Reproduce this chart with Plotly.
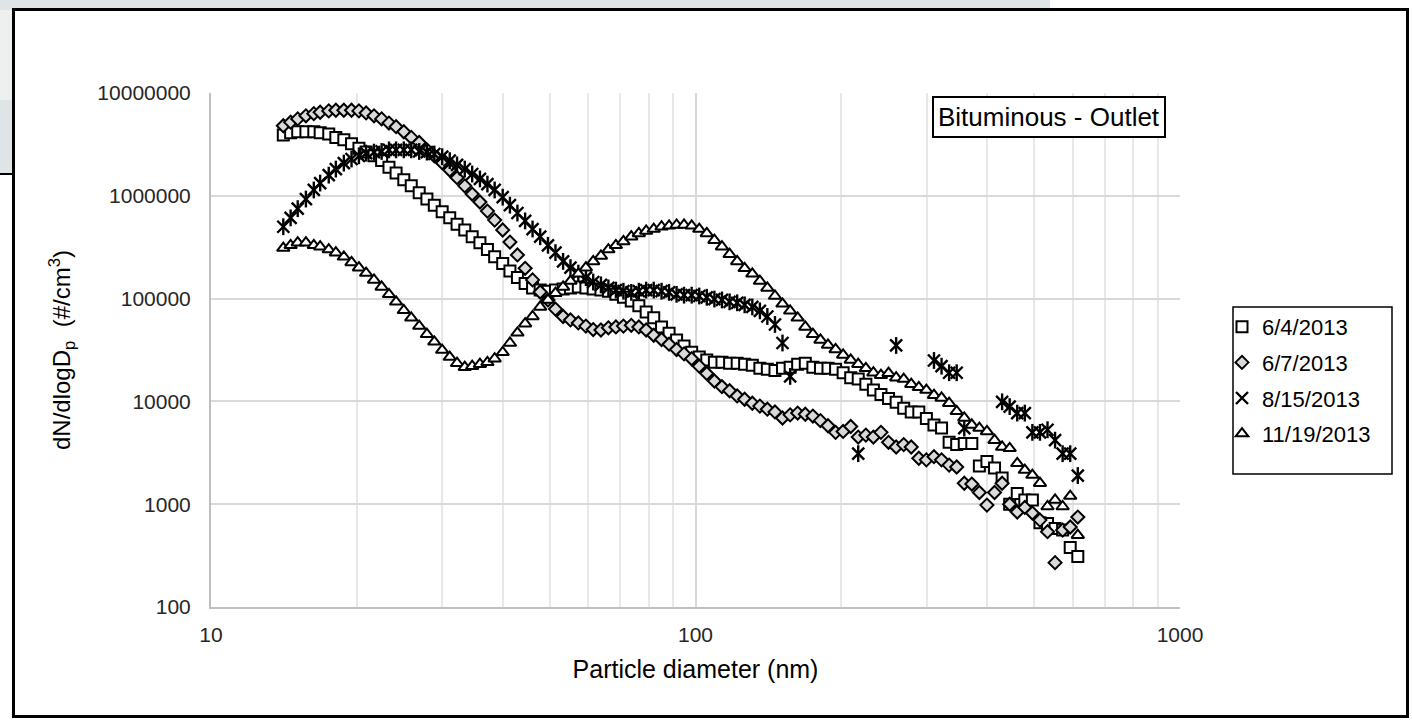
import plotly.graph_objects as go

# ---------------- data ----------------
diam = [14.1, 14.6, 15.1, 15.7, 16.3, 16.8, 17.5, 18.1, 18.8, 19.5,
        20.2, 20.9, 21.7, 22.5, 23.3, 24.1, 25.0, 25.9, 26.9, 27.9,
        28.9, 30.0, 31.1, 32.2, 33.4, 34.6, 35.9, 37.2, 38.5, 40.0,
        41.4, 42.9, 44.5, 46.1, 47.8, 49.6, 51.4, 53.3, 55.2, 57.3,
        59.4, 61.5, 63.8, 66.1, 68.5, 71.0, 73.7, 76.4, 79.1, 82.0,
        85.1, 88.2, 91.4, 94.7, 98.2, 101.8, 105.5, 109.4, 113.4, 117.6,
        121.9, 126.3, 131.0, 135.8, 140.7, 145.9, 151.2, 156.8, 162.5, 168.5,
        174.7, 181.1, 187.7, 194.6, 201.7, 209.1, 216.7, 224.7, 232.9, 241.4,
        250.3, 259.5, 269.0, 278.8, 289.0, 299.6, 310.6, 322.0, 333.8, 346.0,
        358.7, 371.8, 385.4, 399.5, 414.2, 429.4, 445.1, 461.4, 478.3, 495.8,
        514.0, 532.8, 552.3, 572.5, 593.5, 615.3]

s_0604 = [3.9e6, 4.1e6, 4.2e6, 4.2e6, 4.2e6, 4.1e6, 4.0e6, 3.7e6, 3.5e6, 3.2e6,
          2.9e6, 2.67e6, 2.45e6, 2.2e6, 1.9e6, 1.67e6, 1.43e6, 1.25e6, 1.07e6, 9.3e5,
          8.1e5, 7.0e5, 6.1e5, 5.3e5, 4.65e5, 4.0e5, 3.5e5, 3.0e5, 2.55e5, 2.2e5,
          1.86e5, 1.6e5, 1.4e5, 1.27e5, 1.21e5, 1.18e5, 1.21e5, 1.24e5, 1.27e5, 1.3e5,
          1.27e5, 1.24e5, 1.21e5, 1.18e5, 1.1e5, 1.03e5, 9.5e4, 8.5e4, 7.4e4, 6.5e4,
          5.3e4, 4.6e4, 3.96e4, 3.46e4, 3.0e4, 2.7e4, 2.53e4, 2.4e4, 2.4e4, 2.35e4,
          2.35e4, 2.3e4, 2.25e4, 2.1e4, 2.05e4, 2.0e4, 2.1e4, 2.15e4, 2.3e4, 2.35e4,
          2.15e4, 2.1e4, 2.1e4, 2.05e4, 1.9e4, 1.7e4, 1.65e4, 1.47e4, 1.29e4, 1.17e4,
          1.07e4, 9.8e3, 8.6e3, 7.9e3, 7.9e3, 6.8e3, 5.9e3, 5.5e3, 4.0e3, 3.8e3,
          3.9e3, 3.9e3, 2.35e3, 2.6e3, 2.25e3, 1.8e3, 1.0e3, 1.27e3, 1.1e3, 1.1e3,
          660, 650, 580, 560, 380, 310]

s_0607 = [4.8e6, 5.2e6, 5.6e6, 6.0e6, 6.3e6, 6.5e6, 6.7e6, 6.8e6, 6.8e6, 6.8e6,
          6.7e6, 6.4e6, 6.0e6, 5.6e6, 5.1e6, 4.7e6, 4.2e6, 3.7e6, 3.3e6, 2.8e6,
          2.45e6, 2.1e6, 1.78e6, 1.5e6, 1.25e6, 1.04e6, 8.7e5, 7.1e5, 5.8e5, 4.65e5,
          3.55e5, 2.66e5, 1.97e5, 1.52e5, 1.16e5, 9.7e4, 7.9e4, 6.7e4, 6.2e4, 5.8e4,
          5.4e4, 5.0e4, 4.95e4, 5.2e4, 5.3e4, 5.4e4, 5.5e4, 5.3e4, 4.95e4, 4.4e4,
          4.0e4, 3.6e4, 3.2e4, 2.9e4, 2.6e4, 2.2e4, 1.87e4, 1.58e4, 1.39e4, 1.27e4,
          1.13e4, 1.05e4, 9.6e3, 9.0e3, 8.4e3, 7.9e3, 6.9e3, 7.4e3, 7.7e3, 7.5e3,
          7.2e3, 6.5e3, 5.8e3, 5.0e3, 5.1e3, 5.7e3, 4.5e3, 4.7e3, 4.5e3, 5.0e3,
          4.0e3, 3.6e3, 3.8e3, 3.6e3, 2.8e3, 2.7e3, 2.9e3, 2.7e3, 2.4e3, 2.3e3,
          1.6e3, 1.57e3, 1.3e3, 980, 1.3e3, 1.6e3, 1.0e3, 840, 930, 820,
          700, 540, 270, 560, 600, 750]

s_0815 = [5.0e5, 6.1e5, 7.5e5, 9.3e5, 1.14e6, 1.33e6, 1.59e6, 1.82e6, 2.08e6, 2.28e6,
          2.45e6, 2.6e6, 2.66e6, 2.7e6, 2.8e6, 2.8e6, 2.8e6, 2.8e6, 2.7e6, 2.66e6,
          2.55e6, 2.4e6, 2.2e6, 2.0e6, 1.82e6, 1.63e6, 1.46e6, 1.3e6, 1.14e6, 9.7e5,
          8.1e5, 6.8e5, 5.7e5, 4.75e5, 4.0e5, 3.3e5, 2.8e5, 2.3e5, 2.0e5, 1.77e5,
          1.6e5, 1.45e5, 1.36e5, 1.27e5, 1.21e5, 1.18e5, 1.15e5, 1.18e5, 1.21e5, 1.21e5,
          1.18e5, 1.15e5, 1.1e5, 1.08e5, 1.08e5, 1.06e5, 1.03e5, 9.9e4, 9.7e4, 9.3e4,
          9.1e4, 8.7e4, 8.3e4, 7.6e4, 6.7e4, 5.6e4, 3.7e4, 1.75e4, None, None,
          None, None, None, None, None, None, 3.1e3, None, None, None,
          None, 3.5e4, None, None, None, None, 2.5e4, 2.2e4, 1.9e4, 1.9e4,
          5.5e3, None, None, None, None, 9.9e3, 8.9e3, 7.7e3, 7.7e3, 5.0e3,
          5.0e3, 5.3e3, 4.2e3, 3.1e3, 3.1e3, 1.9e3]

s_1119 = [3.1e5, 3.3e5, 3.5e5, 3.5e5, 3.3e5, 3.2e5, 3.0e5, 2.8e5, 2.55e5, 2.25e5,
          2.0e5, 1.77e5, 1.52e5, 1.3e5, 1.1e5, 9.3e4, 7.7e4, 6.5e4, 5.4e4, 4.5e4,
          3.8e4, 3.16e4, 2.7e4, 2.35e4, 2.15e4, 2.2e4, 2.3e4, 2.4e4, 2.6e4, 3.0e4,
          3.7e4, 4.65e4, 5.7e4, 6.7e4, 8.3e4, 9.7e4, 1.13e5, 1.3e5, 1.48e5, 1.74e5,
          2.0e5, 2.3e5, 2.6e5, 3.0e5, 3.3e5, 3.6e5, 4.0e5, 4.3e5, 4.55e5, 4.75e5,
          5.0e5, 5.1e5, 5.2e5, 5.2e5, 5.1e5, 4.75e5, 4.3e5, 3.7e5, 3.2e5, 2.7e5,
          2.3e5, 1.97e5, 1.74e5, 1.48e5, 1.27e5, 1.06e5, 8.9e4, 7.6e4, 6.5e4, 5.3e4,
          4.5e4, 3.96e4, 3.54e4, 3.2e4, 2.83e4, 2.53e4, 2.3e4, 2.1e4, 1.9e4, 1.8e4,
          1.88e4, 1.7e4, 1.65e4, 1.47e4, 1.37e4, 1.29e4, 1.15e4, 1.08e4, 9.6e3, 8.0e3,
          6.9e3, 5.9e3, 5.5e3, 5.1e3, 4.2e3, 3.6e3, 3.5e3, 2.5e3, 2.15e3, 1.92e3,
          1.6e3, 950, 1.1e3, 950, 1.2e3, 500]

series_names = ["6/4/2013", "6/7/2013", "8/15/2013", "11/19/2013"]
y_ticks = [100, 1000, 10000, 100000, 1000000, 10000000]
x_ticks = [10, 100, 1000]

# ---------------- layout helpers (pixel -> paper) ----------------
L, R, T, B = 211, 1180, 93, 607
W, H = R - L, B - T


def pxx(x):
    return (x - L) / W


def pyy(y):
    return (B - y) / H


FONT = "Liberation Sans, Arial, sans-serif"

fig = go.Figure()

fig.add_trace(go.Scatter(
    x=diam, y=s_0604, mode="markers", name=series_names[0], legendgroup="a",
    marker=dict(symbol="square", size=11, color="white",
                line=dict(color="black", width=2))))
fig.add_trace(go.Scatter(
    x=diam, y=s_0607, mode="markers", name=series_names[1], legendgroup="b",
    marker=dict(symbol="diamond", size=10, color="#d9d9d9",
                line=dict(color="black", width=2))))
fig.add_trace(go.Scatter(
    x=diam, y=s_0815, mode="markers", name=series_names[2], legendgroup="c",
    marker=dict(symbol="x-thin-open", size=12, color="black",
                line=dict(color="black", width=2.4))))
fig.add_trace(go.Scatter(
    x=diam, y=s_0815, mode="markers", name=series_names[2], legendgroup="c",
    showlegend=False, hoverinfo="skip",
    marker=dict(symbol="line-ns-open", size=12, color="black",
                line=dict(color="black", width=2.4))))
fig.add_trace(go.Scatter(
    x=diam, y=s_1119, mode="markers", name=series_names[3], legendgroup="d",
    marker=dict(symbol="triangle-up", size=11, color="white",
                line=dict(color="black", width=2))))

shapes = [
    # spreadsheet remnants behind the chart
    dict(type="rect", xref="paper", yref="paper", x0=pxx(0), x1=pxx(1050),
         y0=pyy(10), y1=pyy(0), fillcolor="#dfe5e6", line=dict(width=0), layer="below"),
    dict(type="rect", xref="paper", yref="paper", x0=pxx(0), x1=pxx(13),
         y0=pyy(100), y1=pyy(10), fillcolor="#eef0f0", line=dict(width=0), layer="below"),
    dict(type="rect", xref="paper", yref="paper", x0=pxx(0), x1=pxx(13),
         y0=pyy(174), y1=pyy(100), fillcolor="#dfe5e6", line=dict(width=0), layer="below"),
    dict(type="line", xref="paper", yref="paper", x0=pxx(0), x1=pxx(13),
         y0=pyy(174), y1=pyy(174), line=dict(color="black", width=2)),
    # chart frame
    dict(type="rect", xref="paper", yref="paper", x0=pxx(13.5), x1=pxx(1407.5),
         y0=pyy(716.5), y1=pyy(9.5), line=dict(color="black", width=3)),
    # legend frame
    dict(type="rect", xref="paper", yref="paper", x0=pxx(1233), x1=pxx(1392),
         y0=pyy(474), y1=pyy(307), line=dict(color="black", width=1.5),
         fillcolor="white", layer="below"),
]

fig.update_layout(
    width=1412, height=721, autosize=False,
    margin=dict(l=L, r=1412 - R, t=T, b=721 - B),
    paper_bgcolor="white", plot_bgcolor="white",
    font=dict(family=FONT, color="black", size=21),
    shapes=shapes,
    showlegend=True,
    legend=dict(x=pxx(1222), y=pyy(306), xanchor="left", yanchor="top",
                bgcolor="rgba(0,0,0,0)", borderwidth=0,
                font=dict(family=FONT, size=22, color="black"),
                tracegroupgap=4, itemwidth=30),
    annotations=[dict(
        text="Bituminous - Outlet", xref="paper", yref="paper",
        x=pxx(1049), y=pyy(117), xanchor="center", yanchor="middle",
        showarrow=False, font=dict(family=FONT, size=26, color="black"),
        bordercolor="black", borderwidth=2, borderpad=4, bgcolor="white")],
)

fig.update_xaxes(
    type="log", range=[1, 3], tickvals=x_ticks, ticktext=[str(v) for v in x_ticks],
    showgrid=True, gridcolor="#d9d9d9", gridwidth=1.5,
    minor=dict(showgrid=True, gridcolor="#e8e8e8", gridwidth=1.5, dtick="D1"),
    showline=True, linecolor="#bfbfbf", linewidth=2, ticks="",
    ticklabelstandoff=8,
    tickfont=dict(family=FONT, size=21, color="#262626"),
    title=dict(text="Particle diameter (nm)", standoff=15,
               font=dict(family=FONT, size=25, color="black")),
    zeroline=False)
fig.update_yaxes(
    type="log", range=[2, 7], tickvals=y_ticks, ticktext=[str(v) for v in y_ticks],
    showgrid=True, gridcolor="#d9d9d9", gridwidth=1.5,
    showline=True, linecolor="#bfbfbf", linewidth=2, ticks="",
    ticklabelstandoff=14,
    tickfont=dict(family=FONT, size=21, color="#262626"),
    title=dict(text="dN/dlogD<sub>p</sub>  (#/cm<sup>3</sup>)", standoff=20,
               font=dict(family=FONT, size=24, color="black")),
    zeroline=False)

fig.write_html("out.html")
